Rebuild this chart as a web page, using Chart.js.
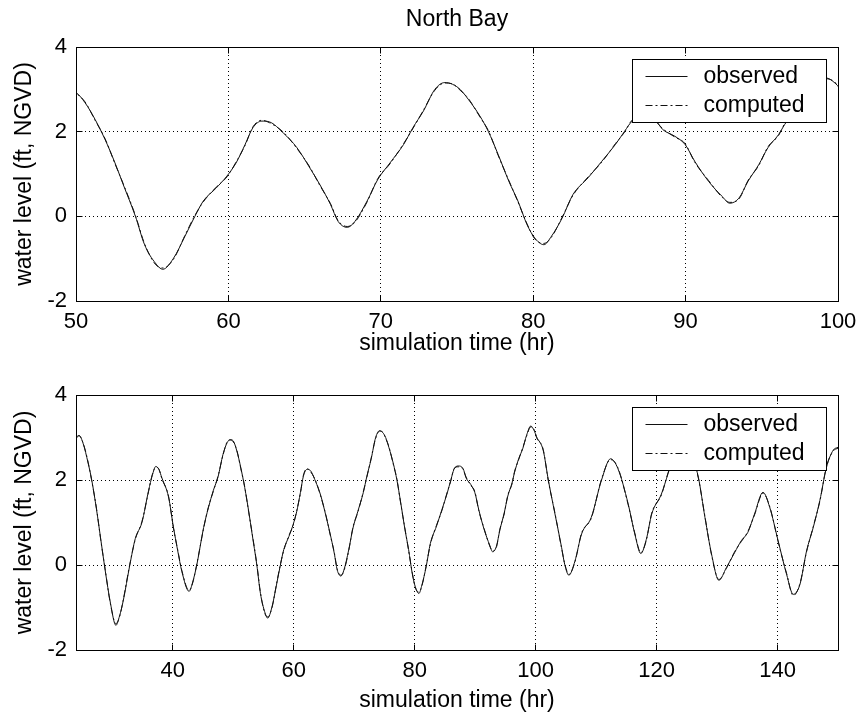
<!DOCTYPE html>
<html lang="en">
<head>
<meta charset="UTF-8">
<title>North Bay</title>
<script src="https://cdn.jsdelivr.net/npm/chart.js"></script>
<style>
  body { margin: 0; background: #fff; }
  .panel { position: absolute; left: 0; width: 860px; height: 357px; }
  #top { top: 0; }
  #bottom { top: 357px; }
</style>
</head>
<body>
<div class="panel" id="top"><canvas id="chartTop" width="860" height="357"></canvas></div>
<div class="panel" id="bottom"><canvas id="chartBottom" width="860" height="357"></canvas></div>
<script>
// simulation time (hr) and water level (ft, NGVD)
const hours = [24.0, 24.5, 25.2, 26.0, 26.6, 27.4, 28.1, 28.8, 29.7, 30.6,
  31.2, 31.8, 32.9, 33.8, 34.9, 36.0, 36.6, 37.2, 37.7, 38.2,
  39.3, 40.1, 40.8, 41.5, 42.7, 43.3, 44.0, 45.1, 45.9, 46.7,
  47.5, 48.3, 49.0, 49.5, 50.0, 50.6, 51.25, 51.9, 52.56, 53.1,
  53.9, 54.5, 55.2, 55.7, 56.4, 57.15, 57.8, 58.35, 59.2, 59.9,
  60.5, 61.1, 61.6, 62.2, 62.7, 63.6, 64.5, 65.35, 66.0, 66.7,
  67.2, 67.8, 68.3, 69.1, 69.8, 70.6, 71.5, 72.1, 72.8, 73.55,
  74.2, 74.7, 75.2, 75.75, 76.5, 77.05, 77.7, 78.4, 79.0, 79.6,
  80.1, 80.7, 81.2, 81.9, 82.6, 83.6, 84.5, 85.4, 86.0, 86.5,
  87.2, 88.0, 88.5, 89.3, 89.96, 90.6, 91.5, 92.4, 92.9, 93.5,
  94.1, 94.8, 95.4, 96.1, 96.5, 97.2, 97.9, 98.5, 99.2, 99.8,
  100.15, 101.25, 102.1, 103.2, 104.3, 104.8, 105.5, 106.5, 107.6, 109.2,
  110.9, 112.4, 113.6, 115.3, 116.4, 117.4, 118.3, 119.2, 120.8, 121.9,
  123.2, 124.4, 125.6, 126.9, 128.0, 129.1, 130.3, 131.55, 132.9, 134.0,
  135.1, 136.2, 137.6, 138.7, 140.1, 141.5, 142.6, 143.7, 144.8, 145.9,
  147.0, 148.1, 149.2, 150.0];

const observed = [3.0, 3.05, 2.85, 2.4, 2.0, 1.3, 0.6, -0.1, -0.9, -1.42,
  -1.2, -0.85, 0.0, 0.62, 1.0, 1.75, 2.1, 2.32, 2.25, 2.05,
  1.6, 0.9, 0.35, -0.15, -0.62, -0.4, 0.02, 0.88, 1.35, 1.75,
  2.08, 2.6, 2.88, 2.95, 2.92, 2.68, 2.29, 1.82, 1.26, 0.75,
  0.0, -0.67, -1.1, -1.25, -0.99, -0.47, 0.0, 0.36, 0.67, 0.95,
  1.26, 1.7, 2.09, 2.25, 2.23, 1.97, 1.62, 1.14, 0.75, 0.28,
  -0.12, -0.26, -0.12, 0.36, 0.87, 1.26, 1.7, 2.09, 2.49, 3.0,
  3.16, 3.12, 3.0, 2.76, 2.37, 2.01, 1.46, 0.83, 0.36, -0.2,
  -0.51, -0.67, -0.47, -0.04, 0.51, 0.91, 1.3, 1.7, 2.01, 2.25,
  2.33, 2.27, 2.05, 1.89, 1.7, 1.3, 0.83, 0.47, 0.31, 0.43,
  0.83, 1.22, 1.62, 1.93, 2.17, 2.5, 2.75, 3.05, 3.27, 3.15,
  3.02, 2.7, 2.0, 1.2, 0.41, 0.02, -0.24, 0.09, 0.73, 1.12,
  2.0, 2.5, 2.27, 1.44, 0.73, 0.27, 0.6, 1.2, 1.67, 2.15,
  2.7, 2.9, 2.65, 2.07, 1.12, 0.25, -0.36, -0.06, 0.29, 0.57,
  0.77, 1.2, 1.71, 1.36, 0.57, -0.22, -0.69, -0.46, 0.33, 0.88,
  1.52, 2.3, 2.7, 2.77];

const computed = [2.98, 3.04, 2.86, 2.42, 1.98, 1.32, 0.58, -0.08, -0.92, -1.38,
  -1.22, -0.83, 0.02, 0.6, 1.02, 1.73, 2.12, 2.3, 2.26, 2.03,
  1.62, 0.88, 0.37, -0.13, -0.6, -0.42, 0.04, 0.86, 1.37, 1.73,
  2.1, 2.58, 2.9, 2.94, 2.9, 2.7, 2.27, 1.84, 1.24, 0.77,
  0.02, -0.65, -1.13, -1.22, -1.01, -0.45, 0.02, 0.34, 0.69, 0.93,
  1.28, 1.68, 2.11, 2.27, 2.21, 1.99, 1.6, 1.16, 0.73, 0.3,
  -0.1, -0.24, -0.14, 0.34, 0.89, 1.24, 1.72, 2.07, 2.51, 2.98,
  3.15, 3.13, 2.98, 2.78, 2.35, 2.03, 1.44, 0.85, 0.34, -0.18,
  -0.53, -0.64, -0.49, -0.02, 0.49, 0.93, 1.28, 1.72, 1.99, 2.27,
  2.31, 2.25, 2.07, 1.87, 1.72, 1.28, 0.85, 0.45, 0.33, 0.41,
  0.85, 1.2, 1.64, 1.91, 2.19, 2.48, 2.77, 3.03, 3.25, 3.17,
  3.0, 2.72, 1.98, 1.22, 0.39, 0.04, -0.22, 0.07, 0.75, 1.1,
  2.02, 2.48, 2.29, 1.42, 0.75, 0.29, 0.58, 1.22, 1.65, 2.17,
  2.68, 2.88, 2.67, 2.05, 1.14, 0.23, -0.34, -0.08, 0.31, 0.55,
  0.79, 1.18, 1.69, 1.38, 0.55, -0.2, -0.72, -0.44, 0.31, 0.9,
  1.5, 2.32, 2.68, 2.75];

const levelTicks = [-2, 0, 2, 4];
const topTimeTicks = [50, 60, 70, 80, 90, 100];
const bottomTimeTicks = [40, 60, 80, 100, 120, 140];

const FONT = "'Liberation Sans', Arial, Helvetica, sans-serif";

// same rounding as chart.js uses for 1px lines
const al = v => Math.round(v - 0.5) + 0.5;

// solid box round the plot area with short inward tick marks on all sides
const frame = {
  id: 'frame',
  afterDatasetsDraw(chart) {
    const { ctx, chartArea: a, scales } = chart;
    const L = al(a.left), R = al(a.right), T = al(a.top), B = al(a.bottom);
    ctx.save();
    ctx.strokeStyle = '#000';
    ctx.lineWidth = 1;
    ctx.setLineDash([]);
    ctx.strokeRect(L, T, R - L, B - T);
    ctx.beginPath();
    scales.x.ticks.forEach(t => {
      const px = al(scales.x.getPixelForValue(t.value));
      ctx.moveTo(px, B); ctx.lineTo(px, B - 6);
      ctx.moveTo(px, T); ctx.lineTo(px, T + 6);
    });
    scales.y.ticks.forEach(t => {
      const py = al(scales.y.getPixelForValue(t.value));
      ctx.moveTo(L, py); ctx.lineTo(L + 6, py);
      ctx.moveTo(R, py); ctx.lineTo(R - 6, py);
    });
    ctx.stroke();
    ctx.restore();
  }
};

// legend box drawn inside the upper right corner of the plot
const boxLegend = {
  id: 'boxLegend',
  afterDraw(chart, args, opts) {
    const { ctx, chartArea: a } = chart;
    const x = al(a.right - opts.right - opts.width);
    const y = al(a.top + opts.top);
    ctx.save();
    ctx.fillStyle = '#fff';
    ctx.fillRect(x, y, opts.width, opts.height);
    ctx.strokeStyle = '#000';
    ctx.lineWidth = 1;
    ctx.strokeRect(x, y, opts.width, opts.height);
    ctx.font = '23px ' + FONT;
    ctx.textBaseline = 'middle';
    ctx.fillStyle = '#000';
    chart.data.datasets.forEach((ds, i) => {
      const ry = al(y + opts.rows[i]);
      ctx.beginPath();
      ctx.strokeStyle = ds.borderColor;
      ctx.setLineDash(ds.borderDash || []);
      ctx.moveTo(x + 13, ry);
      ctx.lineTo(x + 55, ry);
      ctx.stroke();
      ctx.fillText(ds.label, x + 71, ry);
    });
    ctx.restore();
  }
};

function series(values) {
  return hours.map((h, i) => ({ x: h, y: values[i] }));
}

function makeChart(id, xMin, xMax, xTicks, title, topPad, axisHeight) {
  return new Chart(document.getElementById(id), {
    type: 'line',
    data: {
      datasets: [
        {
          label: 'observed',
          data: series(observed),
          borderColor: '#111',
          borderWidth: 1,
          pointRadius: 0,
          cubicInterpolationMode: 'monotone',
          fill: false
        },
        {
          label: 'computed',
          data: series(computed),
          borderColor: '#111',
          borderWidth: 1,
          borderDash: [7, 3, 2, 3],
          pointRadius: 0,
          cubicInterpolationMode: 'monotone',
          fill: false
        }
      ]
    },
    options: {
      responsive: false,
      animation: false,
      events: [],
      layout: { padding: { top: topPad, right: 22, left: 0, bottom: 0 } },
      plugins: {
        legend: { display: false },
        tooltip: { enabled: false },
        title: {
          display: !!title,
          text: title,
          color: '#000',
          fullSize: false,
          font: { family: FONT, size: 23, weight: 'normal' },
          padding: { top: 6, bottom: 13.4 }
        },
        boxLegend: { right: 12, top: 12, width: 194, height: 63, rows: [17, 46] }
      },
      scales: {
        x: {
          type: 'linear',
          min: xMin,
          max: xMax,
          afterBuildTicks: s => { s.ticks = xTicks.map(v => ({ value: v })); },
          afterFit: s => { s.height = axisHeight; s.paddingLeft = 0; s.paddingRight = 0; },
          grid: { color: '#000', lineWidth: 1, drawTicks: false },
          border: { color: '#000', dash: [1, 3] },
          ticks: { color: '#000', font: { family: FONT, size: 22 }, padding: 8, maxRotation: 0, autoSkip: false },
          title: {
            display: true,
            text: 'simulation time (hr)',
            color: '#000',
            font: { family: FONT, size: 23 },
            padding: { top: 0, bottom: 0 }
          }
        },
        y: {
          min: -2,
          max: 4,
          afterBuildTicks: s => { s.ticks = levelTicks.map(v => ({ value: v })); },
          afterFit: s => { s.width = 76; s.paddingTop = 0; s.paddingBottom = 0; },
          grid: { color: '#000', lineWidth: 1, drawTicks: false },
          border: { color: '#000', dash: [1, 3] },
          ticks: { color: '#000', font: { family: FONT, size: 22 }, padding: 9 },
          title: {
            display: true,
            text: 'water level (ft, NGVD)',
            color: '#000',
            font: { family: FONT, size: 23 },
            padding: { top: 11, bottom: 0 }
          }
        }
      }
    },
    plugins: [frame, boxLegend]
  });
}

makeChart('chartTop', 50, 100, topTimeTicks, 'North Bay', 0, 56);
makeChart('chartBottom', 24, 150, bottomTimeTicks, '', 38, 64);
</script>
</body>
</html>
